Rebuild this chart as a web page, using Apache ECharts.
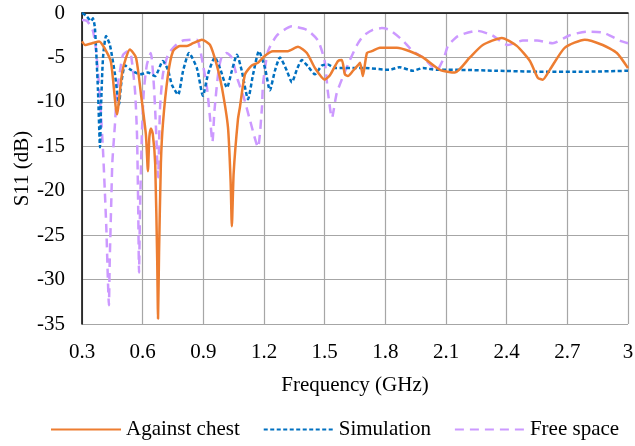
<!DOCTYPE html>
<html><head><meta charset="utf-8">
<script src="https://cdn.jsdelivr.net/npm/echarts@6/dist/echarts.min.js"></script>
<style>html,body{margin:0;padding:0;background:#fff}#c{width:635px;height:446px}</style>
</head><body><div id="c"></div>
<script>
const xTicks = [0.3,0.6,0.9,1.2,1.5,1.8,2.1,2.4,2.7,3];
const yTicks = [0,-5,-10,-15,-20,-25,-30,-35];
const seriesNames = ['Against chest','Simulation','Free space'];

const chestFreq = [0.30,0.315,0.35,0.385,0.41,0.443,0.473,0.50,0.537,0.567,0.592,0.616,0.626,0.633,0.641,0.650,0.662,0.672,0.676,0.681,0.69,0.70,0.725,0.75,0.784,0.819,0.849,0.893,0.933,0.967,0.992,1.022,1.035,1.041,1.05,1.071,1.081,1.106,1.14,1.17,1.205,1.244,1.318,1.368,1.412,1.452,1.50,1.526,1.566,1.585,1.60,1.615,1.64,1.664,1.675,1.689,1.709,1.733,1.773,1.857,1.921,1.986,2.07,2.144,2.218,2.282,2.376,2.45,2.515,2.554,2.579,2.613,2.688,2.786,2.875,2.945,3.0];
const chestS11 = [-3.2,-3.6,-3.4,-3.2,-3.9,-5.5,-11.4,-6.5,-4.1,-5.0,-9.2,-13.7,-17.8,-14.0,-13.0,-13.6,-17,-28,-34.4,-27,-17,-12.5,-7.0,-4.3,-3.7,-3.7,-3.4,-3.0,-3.6,-5.9,-8.4,-12.9,-19,-24,-18,-12,-10.6,-6.9,-5.9,-5.6,-4.8,-4.3,-4.3,-3.8,-4.5,-6.2,-7.5,-7.0,-5.4,-5.3,-6.9,-7.1,-6.5,-5.9,-5.6,-7.1,-4.5,-4.3,-3.9,-3.9,-4.3,-5.0,-6.4,-6.7,-5.0,-3.6,-2.8,-3.7,-5.4,-7.3,-7.5,-6.4,-3.9,-3.0,-3.6,-4.5,-6.2];

const simFreq = [0.30,0.32,0.345,0.354,0.364,0.379,0.389,0.394,0.404,0.419,0.438,0.463,0.483,0.493,0.513,0.542,0.587,0.626,0.661,0.70,0.725,0.745,0.775,0.80,0.829,0.868,0.898,0.923,0.957,0.982,1.017,1.041,1.066,1.09,1.121,1.146,1.175,1.205,1.229,1.254,1.279,1.313,1.338,1.362,1.387,1.417,1.452,1.486,1.516,1.55,1.6,1.7,1.82,1.87,1.936,1.986,2.055,2.168,2.35,2.55,2.8,3.0];
const simS11 = [0,-0.3,-0.9,-0.6,-1.7,-8.7,-15.1,-10.6,-5.0,-2.6,-3.6,-6.9,-10.3,-8.1,-5.9,-6.4,-6.9,-6.7,-7.1,-5.4,-6.4,-8.1,-9.2,-6.5,-4.5,-6.2,-9.3,-6.9,-5.0,-6.2,-8.4,-6.5,-4.7,-6.5,-9.7,-6.9,-4.3,-6.2,-8.7,-6.5,-5.0,-6.5,-7.8,-6.4,-5.3,-6.0,-6.9,-5.9,-5.8,-6.2,-6.2,-6.2,-6.4,-6.1,-6.5,-6.2,-6.4,-6.4,-6.5,-6.6,-6.6,-6.5];

const freeFreq = [0.30,0.325,0.354,0.37,0.39,0.405,0.42,0.428,0.433,0.437,0.445,0.45,0.463,0.473,0.488,0.503,0.527,0.542,0.562,0.572,0.578,0.582,0.587,0.596,0.606,0.621,0.64,0.655,0.666,0.676,0.686,0.70,0.725,0.76,0.80,0.868,0.883,0.898,0.918,0.933,0.945,0.955,0.975,0.99,1.015,1.04,1.07,1.10,1.13,1.17,1.19,1.195,1.22,1.265,1.338,1.412,1.467,1.50,1.515,1.536,1.56,1.615,1.66,1.69,1.738,1.783,1.82,1.882,1.936,1.986,2.03,2.055,2.09,2.11,2.159,2.253,2.327,2.406,2.48,2.55,2.628,2.712,2.796,2.875,2.96,3.0];
const freeS11 = [-0.8,-0.9,-2.0,-4.3,-10,-16,-24,-30,-32.9,-28,-21,-16.8,-12.5,-8.7,-6.5,-4.7,-4.3,-4.7,-8.7,-13.7,-22,-29.2,-22,-13.7,-8.7,-5.8,-4.5,-8,-13,-18.5,-10.6,-6.9,-4.7,-3.7,-3.1,-3.0,-4.0,-5.8,-8.4,-11.8,-14.5,-11,-6.5,-5.0,-4.5,-5.0,-7.5,-9.5,-12,-15.1,-10.6,-8,-4.3,-2.5,-1.5,-1.9,-3.1,-5.4,-8.7,-11.8,-9,-5.8,-3.6,-2.6,-1.9,-1.7,-1.9,-3.0,-4.3,-5.0,-6.0,-6.4,-5.0,-3.7,-2.6,-2.0,-2.5,-3.6,-3.1,-3.1,-3.4,-2.5,-2.1,-2.2,-3.1,-3.4];

const zip = (a,b) => a.map((v,i)=>[v,b[i]]);
const FONT = 'Liberation Serif';
const chart = echarts.init(document.getElementById('c'), null, {renderer:'canvas'});
chart.setOption({
  animation:false,
  backgroundColor:'#fff',
  grid:{left:82,right:7,top:13,bottom:122,containLabel:false,outerBoundsMode:'none'},
  xAxis:{type:'value',min:xTicks[0],max:xTicks[xTicks.length-1],interval:0.3,
    name:'Frequency (GHz)',nameLocation:'middle',nameGap:51,nameMoveOverlap:false,
    nameTextStyle:{fontFamily:FONT,fontSize:21,color:'#000'},
    axisLine:{lineStyle:{color:'#000',width:1.5}},axisTick:{show:false},
    axisLabel:{fontFamily:FONT,fontSize:21,color:'#000',margin:18,formatter:v=>String(Math.round(v*10)/10)},
    splitLine:{show:true,lineStyle:{color:'#a6a6a6',width:1.2}}},
  yAxis:{type:'value',min:yTicks[yTicks.length-1],max:yTicks[0],interval:5,
    name:'S11 (dB)',nameLocation:'middle',nameGap:49,nameRotate:90,nameMoveOverlap:false,
    nameTextStyle:{fontFamily:FONT,fontSize:21,color:'#000'},
    axisLine:{show:true,lineStyle:{color:'#000',width:1.5}},axisTick:{show:false},
    axisLabel:{fontFamily:FONT,fontSize:21,color:'#000',margin:17},
    splitLine:{show:true,lineStyle:{color:'#a6a6a6',width:1.2}}},
  legend:{show:true,top:414,left:45,itemWidth:70,itemHeight:12,itemGap:23,
    itemStyle:{opacity:0},
    textStyle:{fontFamily:FONT,fontSize:21,color:'#000'},
    data:seriesNames},
  series:[
    {name:seriesNames[0],type:'line',data:zip(chestFreq,chestS11),symbol:'none',smooth:0.2,z:3,
     lineStyle:{color:'#ED7D31',width:2.5},itemStyle:{color:'#ED7D31'}},
    {name:seriesNames[1],type:'line',data:zip(simFreq,simS11),symbol:'none',smooth:0.2,z:2,
     lineStyle:{color:'#0070C0',width:2.5,type:[4,2.5]},itemStyle:{color:'#0070C0'}},
    {name:seriesNames[2],type:'line',data:zip(freeFreq,freeS11),symbol:'none',smooth:0.2,z:1,
     lineStyle:{color:'#CC99FF',width:2.5,type:[9,6]},itemStyle:{color:'#CC99FF'}}
  ]
});
</script></body></html>
